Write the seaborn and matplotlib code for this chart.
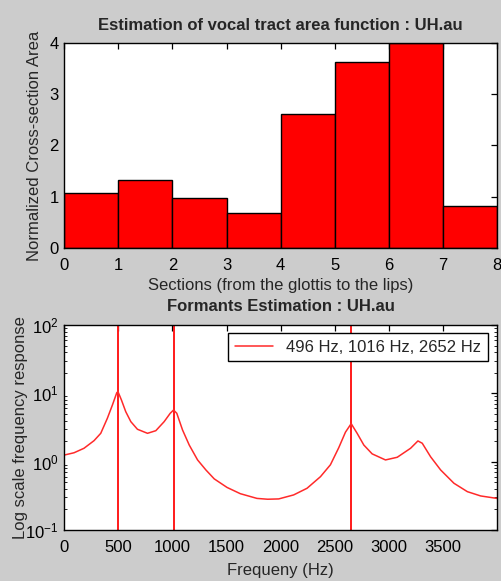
import numpy as np
import pandas as pd
import matplotlib
matplotlib.use("Agg")
import matplotlib.pyplot as plt
import seaborn as sns
from matplotlib.ticker import LogLocator, FixedLocator

# ---- data ----
sections = [1, 2, 3, 4, 5, 6, 7, 8]
areas = [1.08, 1.33, 0.98, 0.68, 2.61, 3.62, 4.00, 0.82]

freq_hz = [0, 90, 182, 275, 337, 398, 445, 485, 496, 528, 568, 615, 676, 769, 846,
           923, 979, 1010, 1040, 1093, 1155, 1232, 1309, 1386, 1504, 1627, 1781,
           1880, 1982, 2120, 2244, 2368, 2460, 2537, 2599, 2652, 2707, 2769, 2846,
           2969, 3078, 3201, 3269, 3309, 3386, 3479, 3602, 3726, 3849, 4000]
response = [1.25, 1.35, 1.57, 2.03, 2.60, 4.31, 6.76, 10.2, 10.6, 8.0, 5.39, 3.85,
            2.98, 2.60, 2.84, 3.85, 5.1, 5.7, 5.1, 2.91, 1.75, 1.06, 0.756, 0.56,
            0.42, 0.34, 0.29, 0.282, 0.285, 0.326, 0.408, 0.603, 0.90, 1.60, 2.70,
            3.6, 2.60, 1.75, 1.30, 1.06, 1.16, 1.57, 2.01, 1.86, 1.18, 0.756, 0.483,
            0.364, 0.315, 0.29]
formants = [496, 1016, 2652]

section_ticks = [0, 1, 2, 3, 4, 5, 6, 7, 8]
freq_ticks = [0, 500, 1000, 1500, 2000, 2500, 3000, 3500]

sns.set_style("white")
plt.rcParams['font.family'] = ['Liberation Sans', 'DejaVu Sans']
plt.rcParams['font.size'] = 12
plt.rcParams['mathtext.fontset'] = 'custom'
plt.rcParams['mathtext.rm'] = 'Liberation Sans'
plt.rcParams['mathtext.it'] = 'Liberation Sans'

W, H = 502, 581
fig = plt.figure(figsize=(W / 100, H / 100), dpi=100, facecolor='#cccccc')

def axrect(l, t, r, b):
    return [l / W, 1 - b / H, (r - l) / W, (b - t) / H]

ax1 = fig.add_axes(axrect(64.3, 43, 497, 248))
ax2 = fig.add_axes(axrect(64.3, 325, 497, 530))

# ---- top: area function ----
df_area = pd.DataFrame({"center": np.array(sections) - 0.5, "area": areas})
sns.barplot(data=df_area, x="center", y="area", native_scale=True, width=1,
            color="#ff0000", saturation=1, edgecolor="black", linewidth=1,
            ax=ax1, zorder=2)
ax1.set_xlim(0, 8)
ax1.set_ylim(0, 4)
ax1.xaxis.set_major_locator(FixedLocator(section_ticks))
ax1.set_xticklabels([str(t) for t in section_ticks])
ax1.set_yticks([0, 1, 2, 3, 4])
ax1.set_title("Estimation of vocal tract area function : UH.au",
              fontweight="bold", fontsize=12, pad=9)
ax1.set_xlabel("Sections (from the glottis to the lips)", labelpad=4)
ax1.set_ylabel("Normalized Cross-section Area", labelpad=5)

# ---- bottom: formants ----
df_resp = pd.DataFrame({"f": freq_hz, "r": response})
for f in formants:
    ax2.axvline(f, color="#ff1a1a", lw=1.4, zorder=1)
sns.lineplot(data=df_resp, x="f", y="r", color="#ff2a2a", lw=1.1, ax=ax2,
             label="496 Hz, 1016 Hz, 2652 Hz", zorder=2)
ax2.set_yscale("log")
ax2.set_xlim(0, 4000)
ax2.set_ylim(0.1, 100)
ax2.set_xticks(freq_ticks)
ax2.set_xticklabels([str(t) for t in freq_ticks])
ax2.yaxis.set_major_locator(LogLocator(base=10, numticks=10))
ax2.yaxis.set_minor_locator(LogLocator(base=10, subs=np.arange(2, 10), numticks=20))
ax2.set_title("Formants Estimation : UH.au", fontweight="bold", fontsize=12, pad=10)
ax2.set_xlabel("Frequeny (Hz)", labelpad=6)
ax2.set_ylabel("Log scale frequency response", labelpad=-2)
leg = ax2.legend(loc="upper right", bbox_to_anchor=(0.979, 0.961), borderaxespad=0,
                 fancybox=False, framealpha=1, edgecolor="black", fontsize=12,
                 handlelength=2.3, handletextpad=0.8, borderpad=0.4)
leg.get_frame().set_linewidth(1.0)

for ax in (ax1, ax2):
    ax.set_facecolor("white")
    for s in ax.spines.values():
        s.set_color("black")
        s.set_linewidth(1.0)
        s.set_visible(True)
    ax.tick_params(which="major", direction="in", length=4, width=0.9,
                   top=True, right=True, labelsize=12, pad=4, colors="black")
    ax.tick_params(which="minor", direction="in", length=2.2, width=0.7,
                   top=False, right=True, left=True)
    ax.tick_params(axis="x", which="major", pad=7)
ax2.tick_params(axis="x", which="minor", bottom=False, top=False)

fig.savefig("out.png", dpi=100, facecolor=fig.get_facecolor())
